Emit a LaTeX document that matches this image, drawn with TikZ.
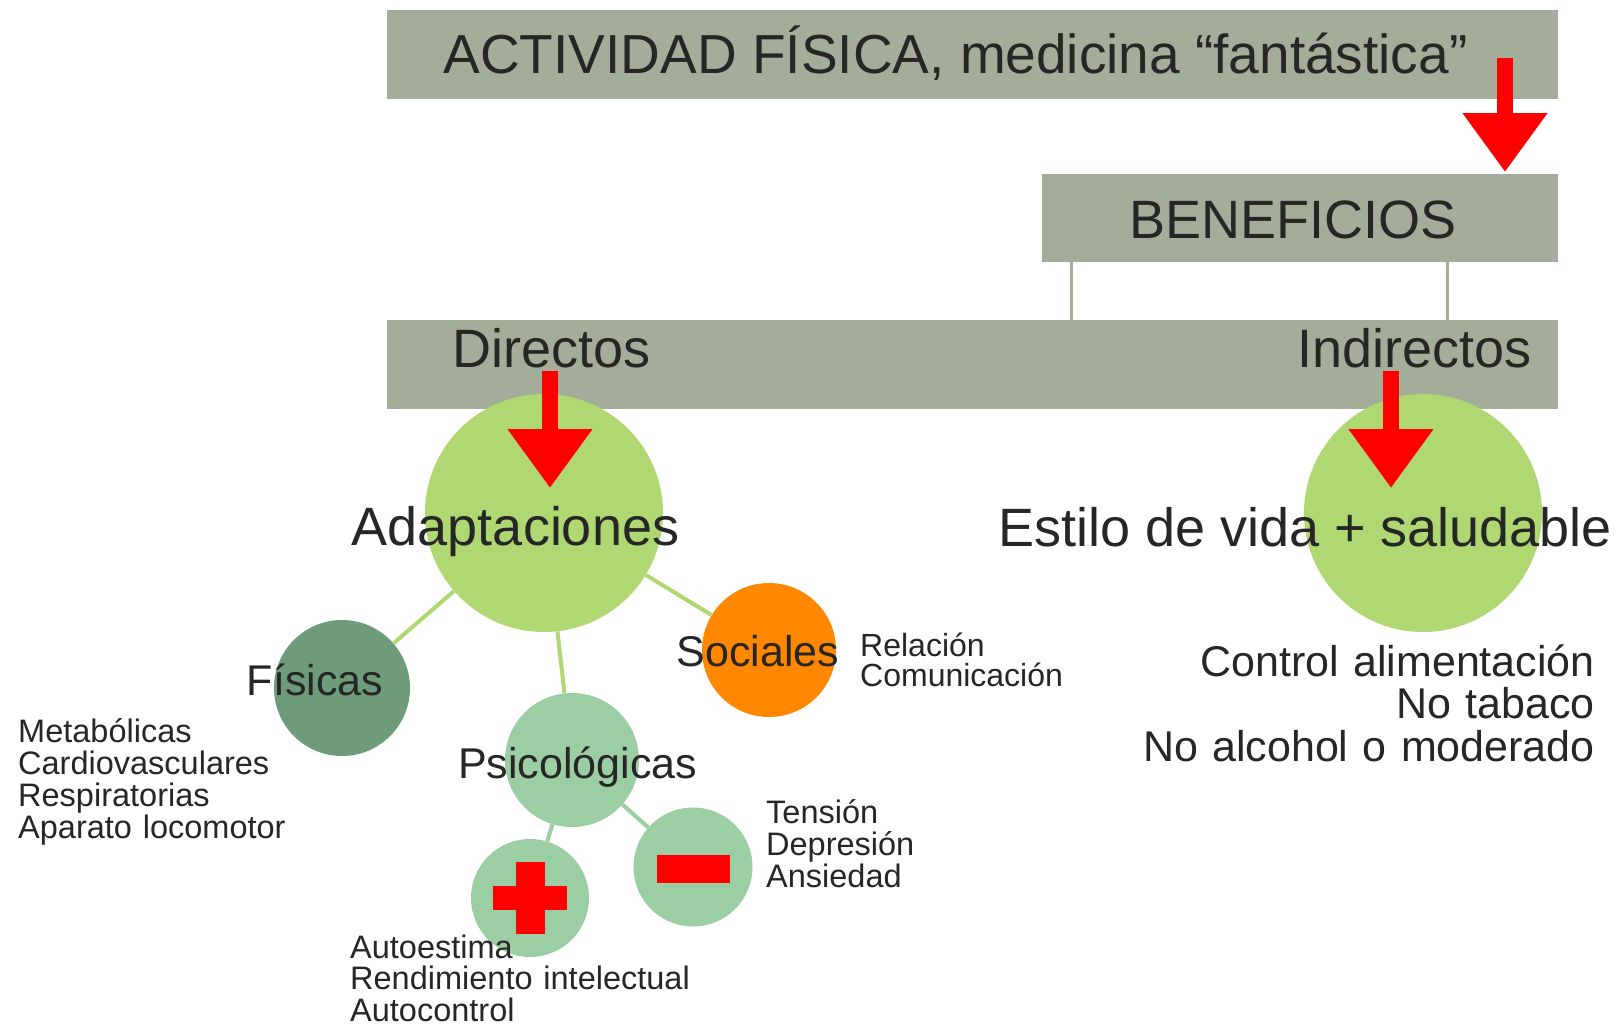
\documentclass[tikz,border=0pt]{standalone}
\usepackage{fontspec}
\setmainfont{Liberation Sans}
\usetikzlibrary{arrows.meta}
\tikzset{>=latex}
\definecolor{gris}{HTML}{A4AD99}
\definecolor{verdeA}{HTML}{B0D872}
\definecolor{verdeF}{HTML}{6E9C7B}
\definecolor{verdeP}{HTML}{9BCFA3}
\definecolor{naranja}{HTML}{FF8800}
\definecolor{tinta}{HTML}{262626}

\begin{document}
\begin{tikzpicture}[x=1pt,y=-1pt,
  caja/.style={rectangle,fill=gris,inner sep=0pt},
  bola/.style={circle,inner sep=0pt},
  signo/.style={rectangle,fill=red,inner sep=0pt},
  rama/.style={line width=4pt},
  flecha/.style={draw=red,line width=16pt,-{Triangle[width=81pt,length=59pt]}},
  grande/.style={inner sep=0pt,text=tinta,anchor=base,font=\fontsize{54}{60}\selectfont},
  medio/.style={inner sep=0pt,text=tinta,anchor=base,font=\fontsize{43}{48}\selectfont},
  lista/.style={inner sep=0pt,text=tinta,anchor=base west,text width=400pt,align=left,font=\fontsize{32.5}{32.3}\selectfont}]
  \fill[white] (0,0) rectangle (1620,1026);
  \useasboundingbox (0,0) rectangle (1620,1026);

  % cajas
  \node[caja,minimum width=1171pt,minimum height=89pt] (titulo) at (972.5,54.5) {};
  \node[caja,minimum width=516pt,minimum height=88pt] (beneficios) at (1300,218) {};
  \node[caja,minimum width=1171pt,minimum height=89pt] (tipos) at (972.5,364.5) {};
  \coordinate (ld) at ([xshift=30pt]beneficios.south west);
  \coordinate (li) at ([xshift=-111pt]beneficios.south east);
  \draw[gris,line width=3pt] (ld) -- (ld |- tipos.north);
  \draw[gris,line width=3pt] (li) -- (li |- tipos.north);

  % circulos
  \node[bola,fill=verdeA,minimum size=238pt] (adapt) at (544,513) {};
  \node[bola,fill=verdeA,minimum size=238pt] (estilo) at (1423,513) {};
  \node[bola,fill=verdeF,minimum size=136pt] (fisicas) at (342,688) {};
  \node[bola,fill=verdeP,minimum size=134pt] (psico) at (572,760) {};
  \node[bola,fill=naranja,minimum size=134pt] (sociales) at (769,650) {};
  \node[bola,fill=verdeP,minimum size=118pt] (mas) at (530,898) {};
  \node[bola,fill=verdeP,minimum size=119pt] (menos) at (693,867) {};

  \draw[rama,verdeA] (adapt) -- (fisicas);
  \draw[rama,verdeA] (adapt) -- (psico);
  \draw[rama,verdeA] (adapt) -- (sociales);
  \draw[rama,verdeP] (psico) -- (mas);
  \draw[rama,verdeP] (psico) -- (menos);

  % + y -
  \node[signo,minimum width=74pt,minimum height=24pt] (masH) at (mas) {};
  \node[signo,minimum width=29pt,minimum height=72pt] (masV) at (mas) {};
  \node[signo,minimum width=73pt,minimum height=28pt] (menosB) at ([yshift=-2pt]menos.center) {};

  % textos
  \node[grande,font=\fontsize{55}{60}\selectfont] (tTitulo) at (955.5,73) {ACTIVIDAD FÍSICA, medicina “fantástica”};
  \node[grande] (tBenef) at (1293,238) {BENEFICIOS};
  \node[grande] (tDir) at (551.5,367) {Directos};
  \node[grande] (tIndir) at (1414.5,367) {Indirectos};
  \node[grande] (tAdapt) at (515.5,545) {Adaptaciones};
  \node[grande] (tEstilo) at (1305,546) {Estilo de vida + saludable};
  \node[medio] (tFis) at (315,695) {Físicas};
  \node[medio] (tPsico) at (577.5,778) {Psicológicas};
  \node[medio] (tSoc) at (758,666) {Sociales};
  \node[lista] (lFis) at (18,742) {Metabólicas\\Cardiovasculares\\Respiratorias\\Aparato locomotor};
  \node[lista,font=\fontsize{32}{30}\selectfont] (lSoc) at (860,656) {Relación\\Comunicación};
  \node[lista] (lMenos) at (766,823) {Tensión\\Depresión\\Ansiedad};
  \node[lista,font=\fontsize{32.5}{31.5}\selectfont] (lMas) at (350,958) {Autoestima\\Rendimiento intelectual\\Autocontrol};
  \node[lista,text width=520pt,align=right,anchor=base east,font=\fontsize{43}{42.5}\selectfont] (lEstilo) at (1595,676) {Control alimentación\\No tabaco\\No alcohol o moderado};

  % flechas
  \coordinate (f1a) at (1505,58);
  \coordinate (f1b) at (1505,172);
  \coordinate (f2a) at (550,371);
  \coordinate (f2b) at (550,488);
  \coordinate (f3a) at (1391,371);
  \coordinate (f3b) at (1391,488);
  \draw[flecha] (f1a) -- (f1b);
  \draw[flecha] (f2a) -- (f2b);
  \draw[flecha] (f3a) -- (f3b);
\end{tikzpicture}
\end{document}
